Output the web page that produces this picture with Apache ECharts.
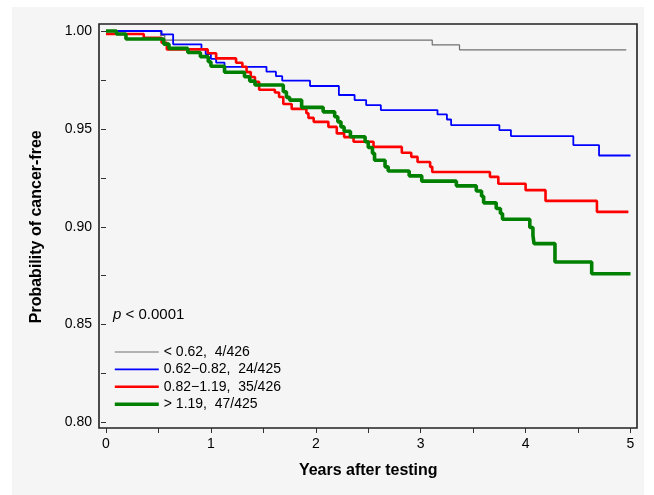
<!DOCTYPE html>
<html>
<head>
<meta charset="utf-8">
<script src="https://cdn.jsdelivr.net/npm/echarts@6/dist/echarts.min.js"></script>
<style>
html,body{margin:0;padding:0;background:#ffffff;}
#bg{position:absolute;left:12px;top:7px;width:632px;height:488px;background:#f5f5f5;}
#chart{position:absolute;left:0;top:0;width:654px;height:495px;}
</style>
</head>
<body>
<div id="bg"></div>
<div id="chart"></div>
<script>
// ---- data (years after testing, probability cancer-free) ----
const seriesNames = ['< 0.62,  4/426', '0.62\u22120.82,  24/425', '0.82\u22121.19,  35/426', '> 1.19,  47/425'];
const grayData = [[0,1],[0.52,0.9977],[0.56,0.9953],[3.11,0.9929],[3.37,0.9904],[4.96,0.9904]];
const blueData = [[0,1],[0.53,0.9983],[0.64,0.9932],[0.91,0.9906],[0.95,0.9882],[1.0,0.9858],[1.05,0.9838],[1.13,0.9817],[1.53,0.9792],[1.62,0.9769],[1.68,0.9746],[1.945,0.9719],[2.22,0.9673],[2.37,0.9647],[2.48,0.9621],[2.62,0.9596],[3.16,0.9574],[3.25,0.9548],[3.29,0.9519],[3.75,0.9494],[3.86,0.9463],[4.455,0.9417],[4.70,0.9364],[5.0,0.9364]];
const redData = [[0,0.9985],[0.36,0.9965],[0.53,0.994],[0.58,0.9906],[0.97,0.9886],[1.05,0.986],[1.24,0.9838],[1.3,0.9817],[1.34,0.979],[1.38,0.9765],[1.42,0.974],[1.46,0.970],[1.61,0.9686],[1.65,0.9663],[1.69,0.9627],[1.77,0.9602],[1.91,0.958],[1.93,0.9556],[1.98,0.9536],[2.12,0.951],[2.2,0.9477],[2.27,0.9458],[2.36,0.9434],[2.55,0.9408],[2.82,0.9378],[2.91,0.9357],[2.97,0.9331],[3.09,0.9306],[3.11,0.928],[3.66,0.9255],[3.74,0.922],[4.0,0.9187],[4.19,0.9132],[4.68,0.9076],[4.98,0.9076]];
const greenData = [[0,1],[0.1,0.9985],[0.19,0.9959],[0.55,0.9933],[0.6,0.9911],[0.78,0.989],[0.9,0.9869],[0.975,0.9843],[1.0,0.982],[1.13,0.9789],[1.32,0.9766],[1.37,0.9744],[1.42,0.9724],[1.69,0.969],[1.72,0.9661],[1.75,0.9647],[1.865,0.961],[2.07,0.9587],[2.18,0.9562],[2.21,0.9536],[2.24,0.951],[2.27,0.9488],[2.33,0.946],[2.47,0.9434],[2.5,0.9405],[2.54,0.9375],[2.56,0.934],[2.66,0.9306],[2.69,0.9285],[2.89,0.926],[3.01,0.9233],[3.34,0.9209],[3.53,0.9183],[3.58,0.9156],[3.6,0.9122],[3.72,0.9093],[3.76,0.9068],[3.78,0.9038],[4.04,0.8996],[4.07,0.8957],[4.08,0.8914],[4.28,0.882],[4.63,0.876],[5.0,0.876]];
// axis ranges and ticks
const xMin = 0, xMax = 5, xTickStep = 0.5, xLabelStep = 1;
const yMin = 0.80, yMax = 1.00, yTickStep = 0.025, yLabelStep = 0.05;

const FONT = '"Liberation Sans", Arial, Helvetica, sans-serif';
const chart = echarts.init(document.getElementById('chart'), null, {renderer:'canvas'});
const datasets = [grayData, blueData, redData, greenData];
const colors = ['#707070', '#0000ff', '#ff0000', '#008000'];
const widths = [1.2, 1.8, 2.6, 3.6];
const onStep = (v, step) => Math.abs(v / step - Math.round(v / step)) < 1e-6;

chart.setOption({
  backgroundColor: 'transparent',
  animation: false,
  grid: [
    {left: 106, top: 31, width: 524.5, height: 391.5, show: false, containLabel: false},
    {left: 99, top: 24, width: 538, height: 404, show: true, borderColor: '#222', borderWidth: 1.6, backgroundColor: 'transparent', containLabel: false}
  ],
  xAxis: [{
    gridIndex: 0, type: 'value', min: xMin, max: xMax, interval: xTickStep, offset: 5.5,
    name: 'Years after testing', nameLocation: 'middle', nameGap: 35,
    nameTextStyle: {fontFamily: FONT, fontSize: 16, fontWeight: 'bold', color: '#000'},
    axisLine: {show: false},
    axisTick: {show: true, length: 5, lineStyle: {color: '#333', width: 1}},
    axisLabel: {fontFamily: FONT, fontSize: 14, color: '#000', margin: 9, showMinLabel: true, showMaxLabel: true,
      formatter: v => onStep(v, xLabelStep) ? String(Math.round(v)) : ''},
    splitLine: {show: false}
  }, {
    gridIndex: 1, type: 'value', show: false, min: 0, max: 1
  }],
  yAxis: [{
    gridIndex: 0, type: 'value', min: yMin, max: yMax, interval: yTickStep, offset: 7,
    name: 'Probability of cancer-free', nameLocation: 'middle', nameGap: 54,
    nameTextStyle: {fontFamily: FONT, fontSize: 16, fontWeight: 'bold', color: '#000'},
    axisLine: {show: false},
    axisTick: {show: true, length: 5, lineStyle: {color: '#333', width: 1}},
    axisLabel: {fontFamily: FONT, fontSize: 14, color: '#000', margin: 7, showMinLabel: true, showMaxLabel: true,
      formatter: v => onStep(v, yLabelStep) ? v.toFixed(2) : ''},
    splitLine: {show: false}
  }, {
    gridIndex: 1, type: 'value', show: false, min: 0, max: 1
  }],
  legend: {
    orient: 'vertical', left: 113, top: 345,
    itemWidth: 44, itemHeight: 14, itemGap: 3.4,
    itemStyle: {opacity: 0},
    textStyle: {fontFamily: FONT, fontSize: 14, color: '#000', padding: [0,0,0,0]},
    padding: 0,
    data: seriesNames.map((n, i) => ({name: n, lineStyle: {width: widths[i], color: colors[i]}}))
  },
  graphic: [{
    type: 'text', left: 113, top: 307,
    style: {
      text: '{i|p} < 0.0001',
      font: '15px ' + FONT, fill: '#000',
      rich: {i: {fontStyle: 'italic', fontFamily: FONT, fontSize: 15, fill: '#000'}}
    }
  }],
  series: datasets.map((d, i) => ({
    name: seriesNames[i], type: 'line', step: 'end', data: d,
    xAxisIndex: 0, yAxisIndex: 0,
    symbol: 'none', showSymbol: false, clip: false,
    lineStyle: {color: colors[i], width: widths[i]},
    itemStyle: {color: colors[i]},
    z: 2 + i
  }))
});
</script>
</body>
</html>
